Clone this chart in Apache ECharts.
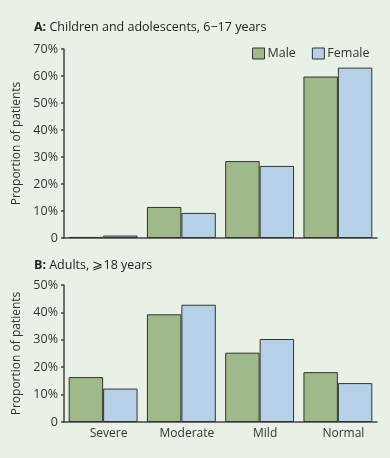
<!DOCTYPE html>
<html><head><meta charset="utf-8">
<script src="https://cdn.jsdelivr.net/npm/echarts@6/dist/echarts.min.js"></script>
<style>html,body{margin:0;padding:0;background:#e9f0e6;}#c{width:390px;height:458px;}</style>
</head><body><div id="c"></div>
<script>
const categories = ['Severe', 'Moderate', 'Mild', 'Normal'];
const childMale = [0.4, 11.5, 28.5, 59.8];
const childFemale = [0.9, 9.3, 26.7, 63.1];
const adultMale = [16.4, 39.3, 25.3, 18.2];
const adultFemale = [12.2, 42.8, 30.3, 14.2];
const childTicks = [0, 70, 10];
const adultTicks = [0, 50, 10];
const seriesNames = ['Male', 'Female'];

const FONT = 'Open Sans';
const maleColor = '#a0b98b';
const femaleColor = '#b6d1e7';
const edge = '#333';
const fmt = v => v === 0 ? '0' : v + '%';

function yAxis(idx, t) {
  return {
    gridIndex: idx, type: 'value', min: t[0], max: t[1], interval: t[2],
    name: 'Proportion of patients', nameLocation: 'middle', nameGap: 36,
    nameTextStyle: {fontFamily: FONT, fontSize: 12, color: '#333'},
    axisLine: {show: true, lineStyle: {color: '#444', width: 1.5}},
    axisTick: {show: true, length: 3, lineStyle: {color: '#444', width: 1.5}},
    splitLine: {show: false},
    axisLabel: {fontFamily: FONT, fontSize: 12.5, color: '#333', margin: 6, formatter: fmt}
  };
}
function xAxis(idx, showLabel) {
  return {
    gridIndex: idx, type: 'category', data: categories,
    axisLine: {show: true, lineStyle: {color: '#444', width: 1.5}},
    axisTick: {show: false},
    axisLabel: {show: showLabel, fontFamily: FONT, fontSize: 12, color: '#333', margin: 6, padding: [0, 0, 0, 11]}
  };
}
function bar(name, data, color, idx) {
  return {
    name: name, type: 'bar', xAxisIndex: idx, yAxisIndex: idx, data: data,
    barGap: '0%', barCategoryGap: '12%',
    itemStyle: {color: color, borderColor: edge, borderWidth: 1},
    emphasis: {disabled: true}
  };
}
const chart = echarts.init(document.getElementById('c'), null, {renderer: 'canvas'});
chart.setOption({
  backgroundColor: '#e9f0e6',
  animation: false,
  title: [
    {text: '{b|A:} Children and adolescents, 6\u221217 years', left: 29, top: 16,
     textStyle: {fontFamily: FONT, fontSize: 12.5, fontWeight: 'normal', color: '#222',
       rich: {b: {fontFamily: FONT, fontSize: 12.5, fontWeight: 'bold', color: '#222'}}}},
    {text: '{b|B:} Adults, \u2a7e18 years', left: 29, top: 254,
     textStyle: {fontFamily: FONT, fontSize: 12.5, fontWeight: 'normal', color: '#222',
       rich: {b: {fontFamily: FONT, fontSize: 12.5, fontWeight: 'bold', color: '#222'}}}}
  ],
  legend: {
    data: seriesNames, left: 247, top: 42, itemWidth: 12, itemHeight: 11, itemGap: 16,
    icon: 'rect',
    itemStyle: {borderColor: edge, borderWidth: 1},
    textStyle: {fontFamily: FONT, fontSize: 12.5, color: '#333', padding: [0, 0, 0, -2]}
  },
  grid: [
    {left: 64, right: 13, top: 49, height: 189},
    {left: 64, right: 13, top: 285, height: 137}
  ],
  xAxis: [xAxis(0, false), xAxis(1, true)],
  yAxis: [yAxis(0, childTicks), yAxis(1, adultTicks)],
  series: [
    bar(seriesNames[0], childMale, maleColor, 0),
    bar(seriesNames[1], childFemale, femaleColor, 0),
    bar(seriesNames[0], adultMale, maleColor, 1),
    bar(seriesNames[1], adultFemale, femaleColor, 1)
  ]
});
</script></body></html>
